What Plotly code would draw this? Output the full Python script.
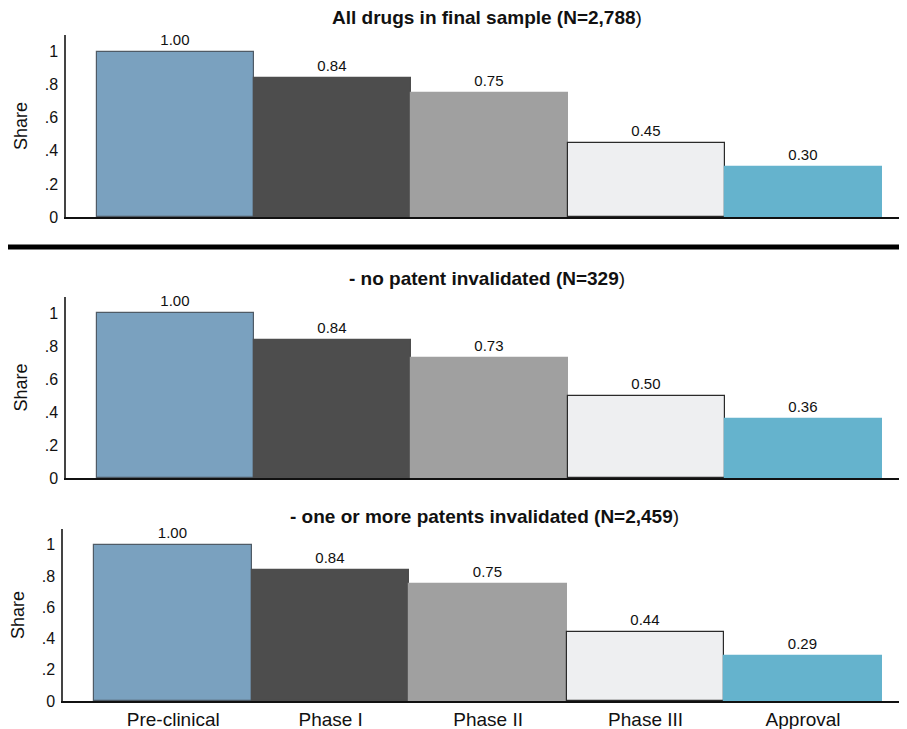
import plotly.graph_objects as go

# page body has an 8px margin: figure pixel = reference pixel - 8
OFF = 8
W, H = 907 - OFF, 729 - OFF

categories = ["Pre-clinical", "Phase I", "Phase II", "Phase III", "Approval"]
share_all = [1.00, 0.84, 0.75, 0.45, 0.30]
share_none = [1.00, 0.84, 0.73, 0.50, 0.36]
share_some = [1.00, 0.84, 0.75, 0.44, 0.29]
panel_titles = [
    "<b>All drugs in final sample (N=2,788</b>)",
    "<b>- no patent invalidated (N=329</b>)",
    "<b>- one or more patents invalidated (N=2,459</b>)",
]
y_tickvals = [0, 0.2, 0.4, 0.6, 0.8, 1.0]
y_ticktext = ["0", ".2", ".4", ".6", ".8", "1"]

bar_colors = ["#7aa1bf", "#4d4d4d", "#a0a0a0", "#eeeff1", "#65b3cd"]
bar_line_colors = ["#4f5b66", "#4d4d4d", "#a0a0a0", "#2a2a2a", "#65b3cd"]

# panel pixel geometry in reference coords: (x_left, y_top, y_bottom)
panels = [(66, 35, 217), (66, 297, 478), (63, 529, 701)]
title_y = [18, 278, 516]
series = [share_all, share_none, share_some]

FONT = "Liberation Sans, Arial, sans-serif"


def px(x):
    return (x - OFF) / W


def py(y):
    return 1 - (y - OFF) / H


fig = go.Figure()
layout = dict(
    width=W, height=H,
    margin=dict(l=0, r=0, t=0, b=0, autoexpand=False),
    paper_bgcolor="white", plot_bgcolor="white",
    showlegend=False, bargap=0,
    font=dict(family=FONT, color="#111"),
)
annotations = []
for i, ((xl, yt, yb), vals) in enumerate(zip(panels, series)):
    k = "" if i == 0 else str(i + 1)
    fig.add_trace(go.Bar(
        x=categories, y=vals,
        xaxis="x" + k, yaxis="y" + k,
        marker=dict(color=bar_colors, line=dict(color=bar_line_colors, width=1.2)),
        texttemplate="%{y:.2f}", textposition="outside",
        textfont=dict(size=15, color="#111", family=FONT),
        cliponaxis=False, hoverinfo="skip",
    ))
    layout["xaxis" + k] = dict(
        domain=[px(xl), 1.0], anchor="y" + k, automargin=False,
        range=[-0.7, 4.66], showline=True, linecolor="#111", linewidth=2,
        showgrid=False, zeroline=False, ticks="",
        showticklabels=(i == 2), tickfont=dict(size=19, family=FONT, color="#111"),
    )
    layout["yaxis" + k] = dict(
        domain=[py(yb), py(yt)], anchor="x" + k, automargin=False,
        range=[0, 1.1], showline=True, linecolor="#444", linewidth=1.5,
        showgrid=False, zeroline=False, ticks="",
        tickvals=y_tickvals, ticktext=y_ticktext,
        tickfont=dict(size=16, family=FONT, color="#111"),
        ticklabelstandoff=3,
        title=dict(text="Share", font=dict(size=18, family=FONT, color="#111"), standoff=12),
    )
    annotations.append(dict(
        text=panel_titles[i], xref="paper", yref="paper",
        x=px((xl + 907) / 2), y=py(title_y[i]),
        xanchor="center", yanchor="middle", showarrow=False,
        font=dict(size=19, family=FONT, color="#111"),
    ))

layout["annotations"] = annotations
layout["shapes"] = [dict(
    type="line", xref="paper", yref="paper",
    x0=0, x1=1.0, y0=py(247), y1=py(247),
    line=dict(color="black", width=5),
)]
fig.update_layout(**layout)
fig.write_html("out.html")
